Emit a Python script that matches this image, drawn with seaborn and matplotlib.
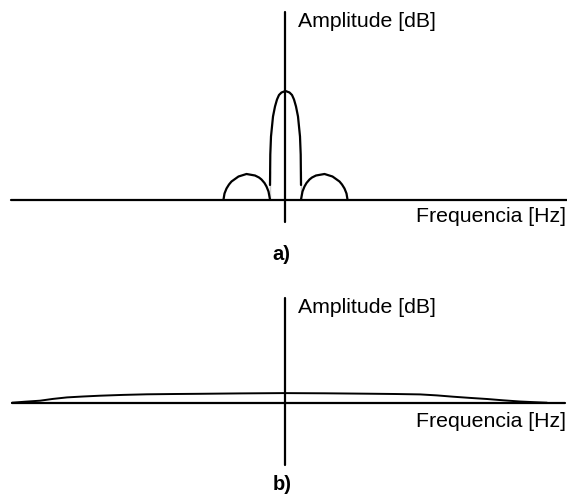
import matplotlib
matplotlib.use('Agg')
import matplotlib.pyplot as plt
import seaborn as sns
import numpy as np

# values (frequency relative to the amplitude axis,
# amplitude relative to the frequency axis, in picture pixels)
# a) main lobe + two side lobes
main_f = [-14.5, -14.5, -14.2, -13.5, -11.5, -9.5, -7.5, -5.5, -3, 1,
          5, 7.5, 9.5, 11.5, 13.5, 15.5, 16.2, 16.5, 16.5]
main_a = [0, 29, 45, 63, 83, 93, 100, 104.5, 107, 108.5,
          107, 104.5, 100, 93, 83, 63, 45, 29, 0]
side_left_f = [-61, -60, -58, -55.5, -53, -46, -38, -29.5, -25.5, -23, -20, -18, -16, -14.5]
side_left_a = [0, 6, 11, 15, 18, 23, 25.5, 24, 22, 20, 16.5, 13, 8, 0]
side_right_f = [63, 62, 60, 57.5, 55, 48, 40, 31.5, 27.5, 25, 22, 20, 18, 16.5]
side_right_a = [0, 6, 11, 15, 18, 23, 25.5, 24, 22, 20, 16.5, 13, 8, 0]
# b) almost flat spectrum
flat_f = [-272.5, -259.5, -244.5, -231.5, -217.5, -201.5, -184.5, -161.5, -137.5, -109.5,
          -84.5, -44.5, -1.5, 40.5, 82.5, 110.5, 135.5, 152.5, 168.5, 185.5,
          202.5, 218.5, 235.5, 250.5, 262.5]
flat_a = [0, 1, 2, 3.8, 5.3, 6.2, 7, 7.8, 8.4, 8.7,
          8.9, 9.3, 9.6, 9.4, 9.0, 8.7, 8.3, 7.3, 6, 4.8,
          3.7, 2.4, 1.2, 0.5, 0]

y_label = 'Amplitude [dB]'
x_label = 'Frequencia [Hz]'
panel_labels = ['a)', 'b)']

sns.set_style('white')
plt.rcParams['font.family'] = ['Liberation Sans', 'DejaVu Sans']

fig = plt.figure(figsize=(5.67, 5.0), dpi=100)
ax = fig.add_axes([0, 0, 1, 1])
ax.set_xlim(0, 567)
ax.set_ylim(500, 0)
ax.axis('off')

axis_x = 284.5
base_a = 199.5
base_b = 402.7
lw = 1.6

# axes of the two panels
ax.plot([11, 567], [base_a, base_a], color='black', lw=lw)
ax.plot([axis_x, axis_x], [12, 222], color='black', lw=lw)
ax.plot([12, 565], [base_b, base_b], color='black', lw=lw)
ax.plot([axis_x, axis_x], [298, 465], color='black', lw=lw)

for f, a in [(main_f, main_a), (side_left_f, side_left_a), (side_right_f, side_right_a)]:
    sns.lineplot(x=axis_x + np.array(f), y=base_a - np.array(a), sort=False,
                 color='black', lw=lw, ax=ax)
sns.lineplot(x=axis_x + np.array(flat_f), y=base_b - np.array(flat_a), sort=False,
             color='black', lw=1.4, ax=ax)

fs = 15.3
txt = dict(color='black', ha='left', va='baseline')
ax.text(298, 27, y_label, fontsize=fs, **txt)
ax.text(416, 221.5, x_label, fontsize=fs, **txt)
ax.text(272.5, 260, panel_labels[0], fontsize=14.5, fontweight='bold', **txt)
ax.text(298, 313, y_label, fontsize=fs, **txt)
ax.text(416, 427, x_label, fontsize=fs, **txt)
ax.text(272.5, 490, panel_labels[1], fontsize=14.5, fontweight='bold', **txt)

fig.savefig('out.png', dpi=100)
